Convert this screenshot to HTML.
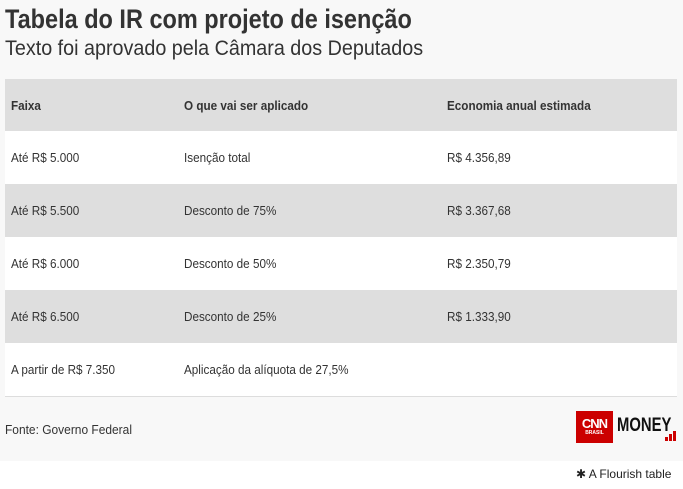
<!DOCTYPE html>
<html><head><meta charset="utf-8"><style>
body{margin:0;width:683px;height:489px;background:#fff;font-family:"Liberation Sans",sans-serif;color:#333;overflow:hidden;position:relative}
.bg{position:absolute;left:0;top:0;width:683px;height:461px;background:#f8f8f8}
.sx{display:inline-block;transform-origin:0 50%;white-space:nowrap}
.t{position:absolute;left:5px;top:4px;font-size:27px;font-weight:bold;color:#333;transform:scaleX(0.87)}
.s{position:absolute;left:5px;top:37px;font-size:21px;color:#333;transform:scaleX(0.94)}
.row{position:absolute;left:5px;width:672px;height:53px;font-size:13px;color:#333}
.row span{position:absolute;top:19px;transform:scaleX(0.9);transform-origin:0 50%;white-space:nowrap}
.g{background:#dedede}.w{background:#fff}
.h{font-weight:bold}
.c1{left:6px}.c2{left:179px}.c3{left:442px}
.foot{position:absolute;left:5px;top:396px;width:672px;height:64px;border-top:1px solid #ddd}
.fo{position:absolute;left:0;top:25px;font-size:13px;transform:scaleX(0.92)}
.logo{position:absolute;left:571px;top:14px;width:37px;height:32px;background:#cc0000;color:#fff;font-size:13px;font-weight:bold;text-align:center;line-height:26px;letter-spacing:-1px}
.logo small{position:absolute;left:0;right:0;top:19px;font-size:5px;line-height:6px;letter-spacing:0}
.money{position:absolute;left:612px;top:18px;font-size:19px;font-weight:bold;color:#111;transform:scaleX(0.78)}
.bars{position:absolute;left:660px;top:26px}
.bars i{display:inline-block;width:3px;background:#cc0000;margin-right:1px;vertical-align:bottom}
.fl{position:absolute;left:576px;top:467px;font-size:12px;color:#222}
</style></head><body>
<div class="bg"></div>
<div class="t sx">Tabela do IR com projeto de isenção</div>
<div class="s sx">Texto foi aprovado pela Câmara dos Deputados</div>
<div class="row g h" style="top:79px"><span class="c1">Faixa</span><span class="c2">O que vai ser aplicado</span><span class="c3">Economia anual estimada</span></div>
<div class="row w" style="top:131px"><span class="c1">Até R$ 5.000</span><span class="c2">Isenção total</span><span class="c3">R$ 4.356,89</span></div>
<div class="row g" style="top:184px"><span class="c1">Até R$ 5.500</span><span class="c2">Desconto de 75%</span><span class="c3">R$ 3.367,68</span></div>
<div class="row w" style="top:237px"><span class="c1">Até R$ 6.000</span><span class="c2">Desconto de 50%</span><span class="c3">R$ 2.350,79</span></div>
<div class="row g" style="top:290px"><span class="c1">Até R$ 6.500</span><span class="c2">Desconto de 25%</span><span class="c3">R$ 1.333,90</span></div>
<div class="row w" style="top:343px"><span class="c1">A partir de R$ 7.350</span><span class="c2">Aplicação da alíquota de 27,5%</span></div>
<div class="foot"><div class="fo sx">Fonte: Governo Federal</div>
<div class="logo">CNN<small>BRASIL</small></div>
<div class="money sx">MONEY</div>
<div class="bars"><i style="height:4px"></i><i style="height:7px"></i><i style="height:10px"></i></div>
</div>
<div class="fl">✱ A Flourish table</div>
</body></html>
